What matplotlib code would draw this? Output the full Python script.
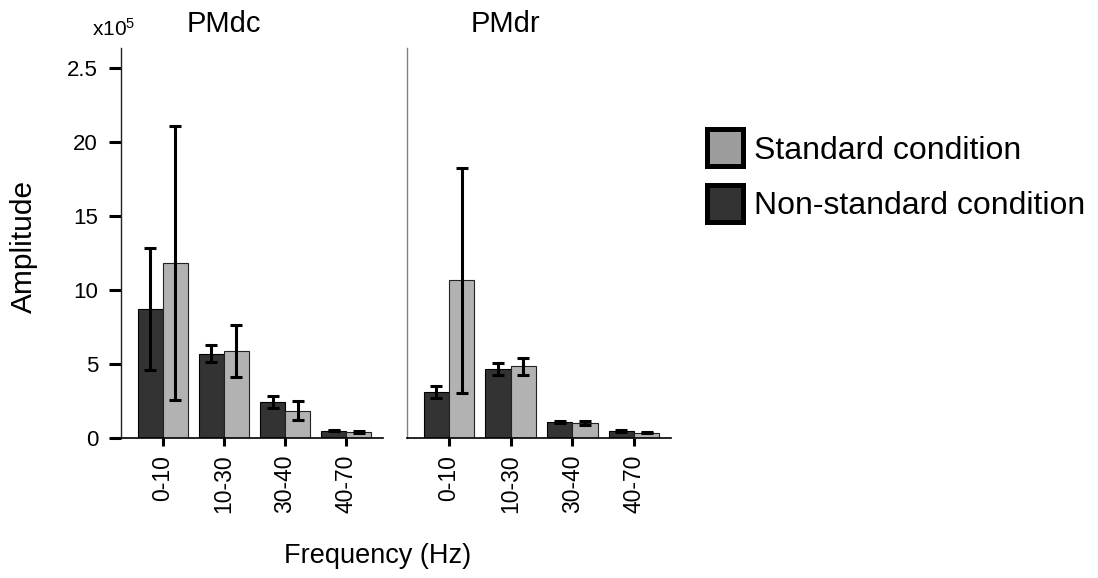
import matplotlib
matplotlib.use("Agg")
import matplotlib.pyplot as plt
from matplotlib.patches import Patch
import numpy as np

plt.rcParams['font.family'] = ['Liberation Sans', 'DejaVu Sans']
plt.rcParams['mathtext.fontset'] = 'custom'
plt.rcParams['mathtext.rm'] = 'Liberation Sans'
plt.rcParams['mathtext.it'] = 'Liberation Sans'

# ---- data (amplitude in units of 1e5) ----
categories = ['0-10', '10-30', '30-40', '40-70']
panel_titles = ['PMdc', 'PMdr']

pmdc_nonstd = [8.7, 5.7, 2.43, 0.5]
pmdc_nonstd_err = [4.13, 0.56, 0.43, 0.06]
pmdc_std = [11.82, 5.9, 1.85, 0.41]
pmdc_std_err = [9.27, 1.75, 0.62, 0.06]

pmdr_nonstd = [3.1, 4.66, 1.08, 0.45]
pmdr_nonstd_err = [0.4, 0.4, 0.1, 0.07]
pmdr_std = [10.66, 4.84, 1.01, 0.36]
pmdr_std_err = [7.6, 0.56, 0.12, 0.04]

ytick_values = [0, 5, 10, 15, 20, 25]
ytick_labels = ['0', '5', '10', '15', '20', '2.5']

series_labels = ['Standard condition', 'Non-standard condition']

# ---- styling ----
W, H = 1098, 578
fig = plt.figure(figsize=(W / 100, H / 100), dpi=100)

dark = '#333333'
light = '#b2b2b2'
legend_light = '#9c9c9c'

def fx(px):
    return px / W

def fy(py):
    return 1 - py / H

ax_bottom = fy(438)
ax_height = fy(48) - fy(438)
ax1 = fig.add_axes([fx(121), ax_bottom, fx(383) - fx(121), ax_height])
ax2 = fig.add_axes([fx(407), ax_bottom, fx(671) - fx(407), ax_height])

bw = 0.41
x = np.arange(len(categories))
err_kw = dict(ecolor='black', elinewidth=2.2, capsize=4.5, capthick=2.2)

panels = [
    (ax1, pmdc_nonstd, pmdc_nonstd_err, pmdc_std, pmdc_std_err),
    (ax2, pmdr_nonstd, pmdr_nonstd_err, pmdr_std, pmdr_std_err),
]

for ax, ns, ns_err, st, st_err in panels:
    ax.bar(x - bw / 2, ns, bw, yerr=ns_err, color=dark, edgecolor='black',
           linewidth=0.8, error_kw=err_kw, zorder=2)
    ax.bar(x + bw / 2, st, bw, yerr=st_err, color=light, edgecolor='#222222',
           linewidth=0.8, error_kw=err_kw, zorder=2)
    ax.set_xlim(-0.68, 3.6)
    ax.set_ylim(0, 26.35)
    ax.set_xticks(x)
    ax.set_xticklabels(categories, rotation=90, fontsize=16.5)
    ax.tick_params(axis='x', direction='out', length=6, width=2.2, pad=6)
    for s in ['top', 'right']:
        ax.spines[s].set_visible(False)
    ax.spines['bottom'].set_color('black')
    ax.spines['bottom'].set_linewidth(1.2)

ax1.set_yticks(ytick_values)
ax1.set_yticklabels(ytick_labels, fontsize=16)
ax1.tick_params(axis='y', direction='out', length=8.5, width=2.2, pad=8)
ax1.spines['left'].set_color('#222222')
ax1.spines['left'].set_linewidth(1.0)

ax2.set_yticks([])
ax2.spines['left'].set_color('#808080')
ax2.spines['left'].set_linewidth(1.0)

# titles and labels
fig.text(fx(223.5), fy(32), panel_titles[0], ha='center', va='baseline', fontsize=21)
fig.text(fx(505), fy(32), panel_titles[1], ha='center', va='baseline', fontsize=21)
fig.text(fx(92), fy(36), r'x10$^{5}$', ha='left', va='baseline', fontsize=15)
fig.text(fx(24), fy(246), 'Amplitude', rotation=90, ha='center', va='center', fontsize=21.5)
fig.text(fx(378), fy(563), 'Frequency (Hz)', ha='center', va='baseline', fontsize=19.5)

# legend
fs = 23
fpx = fs * 100 / 72
handles = [Patch(facecolor=legend_light, edgecolor='black', linewidth=3.6),
           Patch(facecolor=dark, edgecolor='black', linewidth=3.6)]
fig.legend(handles, series_labels, loc='upper left',
           bbox_to_anchor=(fx(706.5), fy(129.5)), frameon=False,
           fontsize=fs, handlelength=36.5 / fpx,
           handleheight=1.395, handletextpad=0.35,
           labelspacing=0.6, borderpad=0, borderaxespad=0)

fig.savefig('out.png', dpi=100)
